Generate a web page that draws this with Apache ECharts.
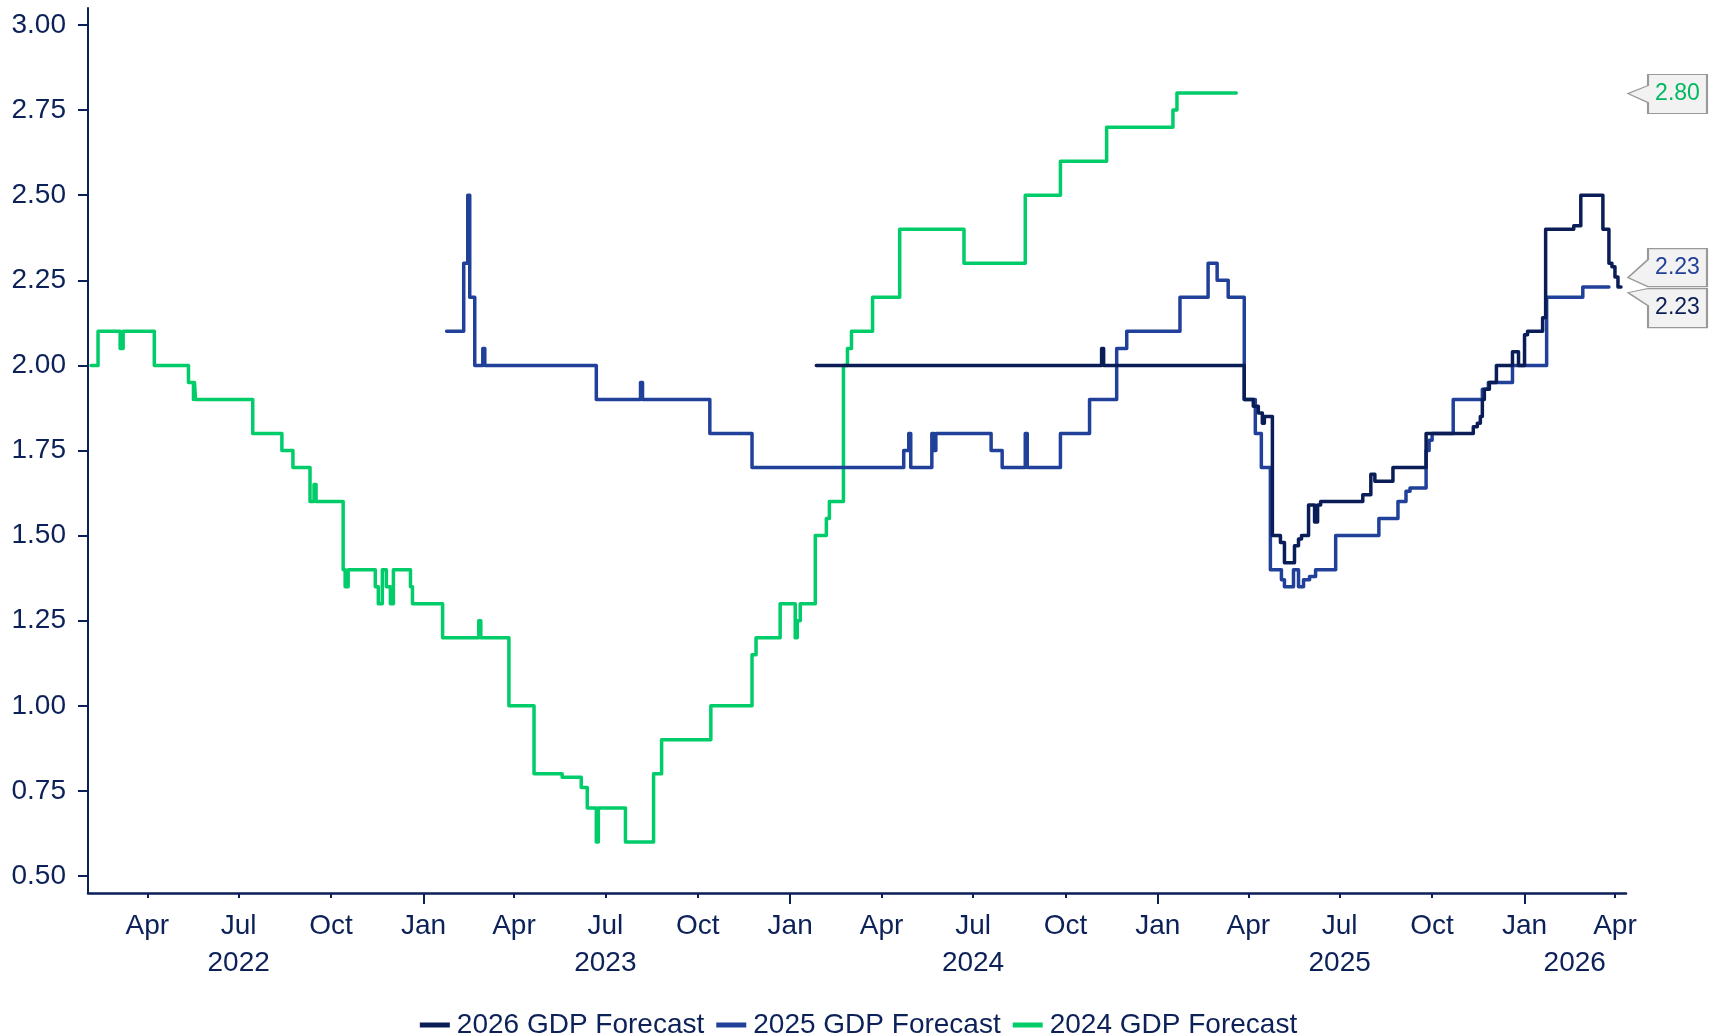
<!DOCTYPE html>
<html>
<head>
<meta charset="utf-8">
<script src="https://cdn.jsdelivr.net/npm/echarts@6/dist/echarts.min.js"></script>
<style>
  html, body { margin: 0; padding: 0; background: #ffffff; }
  #chart { width: 1717px; height: 1036px; }
</style>
</head>
<body>
<div id="chart"></div>
<script>
// ---------------- data ----------------
const seriesNames = ['2026 GDP Forecast', '2025 GDP Forecast', '2024 GDP Forecast'];

// 2024 GDP Forecast: dates where the forecast changes, and the new value
const dates2024 = ['2022-02-04','2022-02-11','2022-03-05','2022-03-08','2022-04-08','2022-05-12','2022-05-17','2022-05-18','2022-05-19',
  '2022-07-15','2022-08-13','2022-08-24','2022-09-10','2022-09-14','2022-09-16','2022-10-13','2022-10-15','2022-10-18',
  '2022-11-14','2022-11-17','2022-11-21','2022-11-25','2022-11-29','2022-12-02','2022-12-19','2022-12-21',
  '2023-01-20','2023-02-25','2023-02-27','2023-03-27','2023-04-21','2023-05-19','2023-06-07','2023-06-13','2023-06-22','2023-06-24',
  '2023-07-21','2023-08-18','2023-08-26','2023-10-14','2023-11-24','2023-11-28','2023-12-22',
  '2024-01-06','2024-01-08','2024-01-11','2024-01-26','2024-02-06','2024-02-09','2024-02-23','2024-02-27','2024-03-02','2024-03-23',
  '2024-04-19','2024-06-22','2024-08-22','2024-09-26','2024-11-11','2025-01-16','2025-01-20','2025-03-20'];
const values2024 = [2.00,2.10,2.05,2.10,2.00,1.95,1.90,1.95,1.90,
  1.80,1.75,1.70,1.60,1.65,1.60,1.40,1.35,1.40,
  1.35,1.30,1.40,1.35,1.30,1.40,1.35,1.30,
  1.20,1.25,1.20,1.00,0.80,0.79,0.76,0.70,0.60,0.70,
  0.60,0.80,0.90,1.00,1.15,1.20,1.30,
  1.20,1.25,1.30,1.50,1.55,1.60,2.00,2.05,2.10,2.20,
  2.40,2.30,2.50,2.60,2.70,2.75,2.80,2.80];

// 2025 GDP Forecast
const dates2025 = ['2023-01-24','2023-02-10','2023-02-14','2023-02-16','2023-02-21','2023-03-01','2023-03-03','2023-06-22','2023-08-05','2023-08-07',
  '2023-10-13','2023-11-24','2024-04-23','2024-04-28','2024-04-30','2024-05-21','2024-05-23','2024-05-25','2024-07-19','2024-07-30',
  '2024-08-22','2024-08-24','2024-09-26','2024-10-25','2024-11-21','2024-12-01','2025-01-23','2025-02-20','2025-03-01','2025-03-12',
  '2025-03-28','2025-04-08','2025-04-14','2025-04-23','2025-05-04','2025-05-07','2025-05-16','2025-05-21','2025-05-26','2025-06-01',
  '2025-06-07','2025-06-27','2025-08-09','2025-08-28','2025-09-05','2025-09-09','2025-09-25','2025-09-28','2025-10-01','2025-10-22',
  '2025-11-20','2025-11-26','2025-12-20','2026-01-23','2026-02-28','2026-03-26'];
const values2025 = [2.10,2.30,2.50,2.20,2.00,2.05,2.00,1.90,1.95,1.90,
  1.80,1.70,1.75,1.80,1.70,1.80,1.75,1.80,1.75,1.70,
  1.80,1.70,1.80,1.90,2.05,2.10,2.20,2.30,2.25,2.20,
  1.90,1.80,1.70,1.40,1.37,1.35,1.40,1.35,1.37,1.38,
  1.40,1.50,1.55,1.60,1.63,1.64,1.75,1.78,1.80,1.90,
  1.93,1.95,2.00,2.20,2.23,2.23];

// 2026 GDP Forecast
const dates2026 = ['2024-01-27','2024-11-06','2024-11-08','2025-03-28','2025-04-06','2025-04-11','2025-04-15','2025-04-17','2025-04-25','2025-05-03',
  '2025-05-07','2025-05-17','2025-05-21','2025-05-24','2025-05-31','2025-06-06','2025-06-09','2025-06-12','2025-07-24','2025-08-01',
  '2025-08-05','2025-08-23','2025-09-25','2025-11-11','2025-11-15','2025-11-18','2025-11-20','2025-11-22','2025-11-27','2025-12-04',
  '2025-12-20','2025-12-26','2026-01-01','2026-01-04','2026-01-19','2026-01-22','2026-02-19','2026-02-26','2026-03-20','2026-03-26',
  '2026-03-29','2026-04-01','2026-04-04','2026-04-07'];
const values2026 = [2.00,2.05,2.00,1.90,1.88,1.86,1.83,1.85,1.50,1.48,
  1.42,1.47,1.49,1.50,1.59,1.54,1.59,1.60,1.62,1.68,
  1.66,1.70,1.80,1.82,1.83,1.85,1.90,1.93,1.95,2.00,
  2.04,2.00,2.09,2.10,2.14,2.40,2.41,2.50,2.40,2.30,
  2.29,2.26,2.23,2.23];

// axis ticks and labels
const xAxisStart = '2022-02-01';
const xAxisEnd = '2026-04-12';
const quarterTicks = ['2022-04-01','2022-07-01','2022-10-01','2023-01-01','2023-04-01','2023-07-01','2023-10-01',
  '2024-01-01','2024-04-01','2024-07-01','2024-10-01','2025-01-01','2025-04-01','2025-07-01','2025-10-01','2026-01-01','2026-04-01'];
const yearTicks = ['2023-01-01','2024-01-01','2025-01-01','2026-01-01'];
const yearLabelDates = ['2022-07-01','2023-07-01','2024-07-01','2025-07-01','2026-02-20'];
const yearLabels = ['2022','2023','2024','2025','2026'];
const monthNames = ['Jan','Feb','Mar','Apr','May','Jun','Jul','Aug','Sep','Oct','Nov','Dec'];
const yTicks = [0.50,0.75,1.00,1.25,1.50,1.75,2.00,2.25,2.50,2.75,3.00];
const yMin = 0.45, yMax = 3.05;

// ---------------- helpers ----------------
const t = s => { const p = s.split('-').map(Number); return Date.UTC(p[0], p[1] - 1, p[2]); };
const zip = (ds, vs) => ds.map((d, i) => [t(d), vs[i]]);

const FONT = "'Liberation Sans', Arial, sans-serif";
const TEXT = '#0d2159';
const AXIS = '#0b1f58';
const colors = { '2026 GDP Forecast': '#0a1d57', '2025 GDP Forecast': '#21409a', '2024 GDP Forecast': '#00cc6a' };

const xMinT = t(xAxisStart);
const xMaxT = t(xAxisEnd);
const yearLabelT = yearLabelDates.map(t);

// callout shapes (box with a pointer on the left)
const calloutGreen = 'path://M20,0 L79,0 L79,39 L20,39 L20,28 L0,19 L20,11 Z';
const calloutBlue = 'path://M20,0 L79,0 L79,38 L20,38 L0,29 L20,11 Z';
const calloutDark = 'path://M20,0 L79,0 L79,39 L20,39 L20,17 L0,4 Z';

function callout(values, color, symbol, size, offset) {
  const last = values[values.length - 1];
  return {
    silent: true,
    symbol: symbol,
    symbolSize: size,
    symbolOffset: offset,
    symbolKeepAspect: false,
    itemStyle: { color: '#f2f2f2', borderColor: '#999999', borderWidth: 1.5 },
    label: {
      show: true, position: 'inside', offset: [10, 0],
      color: color, fontSize: 23, fontFamily: FONT,
      formatter: p => Number(p.value).toFixed(2)
    },
    data: [{ coord: [xMaxT, last], value: last }]
  };
}

function lineSeries(name, ds, vs, mp) {
  return {
    name: name, type: 'line', step: 'end', showSymbol: false, symbol: 'none',
    data: zip(ds, vs),
    lineStyle: { color: colors[name], width: 3.5, join: 'round', cap: 'round' },
    itemStyle: { color: colors[name] },
    markPoint: mp
  };
}

const chart = echarts.init(document.getElementById('chart'), null, { renderer: 'canvas' });
chart.setOption({
  animation: false,
  backgroundColor: '#ffffff',
  textStyle: { fontFamily: FONT },
  grid: { left: 88, right: 91, top: 8, bottom: 143, containLabel: false },
  legend: {
    top: 1006, left: 'center',
    data: seriesNames,
    icon: 'rect', itemWidth: 30, itemHeight: 5, itemGap: 12,
    textStyle: { color: TEXT, fontSize: 28, fontFamily: FONT, padding: [0, 0, 0, 2] }
  },
  xAxis: [
    {
      type: 'value', min: xMinT, max: xMaxT, position: 'bottom',
      axisLine: { show: true, lineStyle: { color: AXIS, width: 2.5 } },
      axisTick: { show: true, length: 5, customValues: quarterTicks.map(t), lineStyle: { color: AXIS, width: 2 } },
      axisLabel: {
        customValues: quarterTicks.map(t), margin: 19, color: TEXT, fontSize: 28, fontFamily: FONT,
        formatter: v => monthNames[new Date(v).getUTCMonth()]
      },
      splitLine: { show: false }
    },
    {
      type: 'value', min: xMinT, max: xMaxT, position: 'bottom', offset: 0,
      axisLine: { show: false },
      axisTick: { show: true, length: 11, customValues: yearTicks.map(t), lineStyle: { color: AXIS, width: 2 } },
      axisLabel: {
        customValues: yearLabelT, margin: 56, color: TEXT, fontSize: 28, fontFamily: FONT,
        formatter: v => { const i = yearLabelT.indexOf(v); return i >= 0 ? yearLabels[i] : ''; }
      },
      splitLine: { show: false }
    }
  ],
  yAxis: {
    type: 'value', min: yMin, max: yMax,
    axisLine: { show: true, lineStyle: { color: AXIS, width: 2 } },
    axisTick: { show: true, length: 10, customValues: yTicks, lineStyle: { color: AXIS, width: 2 } },
    axisLabel: {
      customValues: yTicks, margin: 22, color: TEXT, fontSize: 28, fontFamily: FONT,
      formatter: v => v.toFixed(2)
    },
    splitLine: { show: false }
  },
  series: [
    lineSeries('2024 GDP Forecast', dates2024, values2024,
      callout(values2024, '#00b85f', calloutGreen, [79, 39], [41.5, 1])),
    lineSeries('2025 GDP Forecast', dates2025, values2025,
      callout(values2025, '#21409a', calloutBlue, [79, 38], [41.5, -19.5])),
    lineSeries('2026 GDP Forecast', dates2026, values2026,
      callout(values2026, '#0a1d57', calloutDark, [79, 39], [41.5, 21]))
  ]
});
</script>
</body>
</html>
